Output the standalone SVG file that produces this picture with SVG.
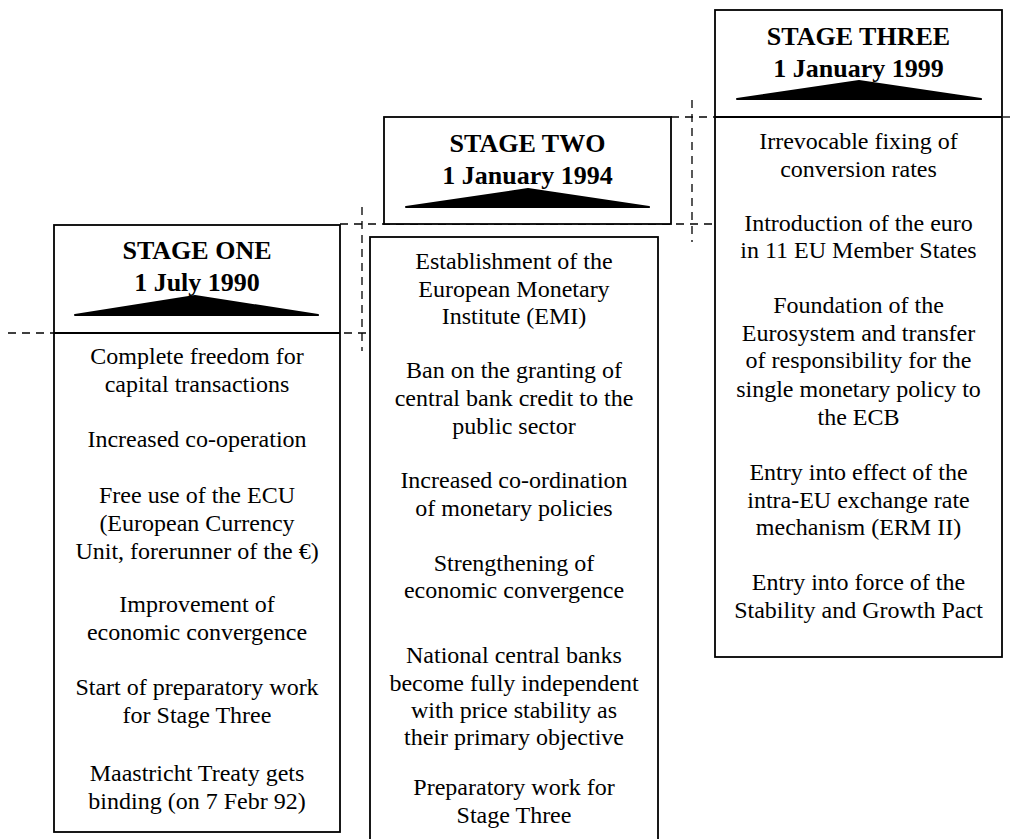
<svg xmlns="http://www.w3.org/2000/svg" width="1010" height="839" viewBox="0 0 1010 839">
<style>
.box{fill:#fff;stroke:#000;stroke-width:1.8}
.div{stroke:#000;stroke-width:1.8;fill:none}
.tri{fill:#000;stroke:#000;stroke-width:2;stroke-linejoin:round}
.dash{stroke:#000;stroke-width:1.3;stroke-dasharray:8 6;fill:none}
.h{font-family:"Liberation Serif","Times New Roman",serif;font-weight:bold;font-size:26px;text-anchor:middle;fill:#000}
.b{font-family:"Liberation Serif","Times New Roman",serif;font-size:24px;text-anchor:middle;fill:#000}
</style>
<rect width="1010" height="839" fill="#fff"/>
<g id="connectors">
<line class="dash" x1="8" y1="333" x2="380" y2="333"/>
<line class="dash" x1="340" y1="224" x2="715" y2="224"/>
<line class="dash" x1="671" y1="117" x2="715" y2="117"/>
<line class="dash" x1="1003" y1="117" x2="1010" y2="117"/>
<line class="dash" x1="362" y1="207" x2="362" y2="351"/>
<line class="dash" x1="692" y1="100" x2="692" y2="242"/>
</g>
<g id="stage-one">
<rect class="box" x="54" y="225" width="286" height="607"/>
<line class="div" x1="54" y1="333" x2="340" y2="333"/>
<text class="h" x="197" y="259">STAGE ONE</text>
<text class="h" x="197" y="291">1 July 1990</text>
<polygon class="tri" points="75,315 195,296 318,315"/>
<text class="b" x="197" y="364">Complete freedom for</text>
<text class="b" x="197" y="392">capital transactions</text>
<text class="b" x="197" y="447">Increased co-operation</text>
<text class="b" x="197" y="503">Free use of the ECU</text>
<text class="b" x="197" y="531">(European Currency</text>
<text class="b" x="197" y="559">Unit, forerunner of the €)</text>
<text class="b" x="197" y="612">Improvement of</text>
<text class="b" x="197" y="640">economic convergence</text>
<text class="b" x="197" y="695">Start of preparatory work</text>
<text class="b" x="197" y="723">for Stage Three</text>
<text class="b" x="197" y="781">Maastricht Treaty gets</text>
<text class="b" x="197" y="809">binding (on 7 Febr 92)</text>
</g>
<g id="stage-two">
<rect class="box" x="384" y="117" width="287" height="107"/>
<text class="h" x="527.5" y="152">STAGE TWO</text>
<text class="h" x="527.5" y="184">1 January 1994</text>
<polygon class="tri" points="406,207 528,189 649,207"/>
<rect class="box" x="370" y="237" width="288" height="615"/>
<text class="b" x="514" y="269">Establishment of the</text>
<text class="b" x="514" y="297">European Monetary</text>
<text class="b" x="514" y="324">Institute (EMI)</text>
<text class="b" x="514" y="378">Ban on the granting of</text>
<text class="b" x="514" y="406">central bank credit to the</text>
<text class="b" x="514" y="434">public sector</text>
<text class="b" x="514" y="488">Increased co-ordination</text>
<text class="b" x="514" y="516">of monetary policies</text>
<text class="b" x="514" y="571">Strengthening of</text>
<text class="b" x="514" y="598">economic convergence</text>
<text class="b" x="514" y="663">National central banks</text>
<text class="b" x="514" y="691">become fully independent</text>
<text class="b" x="514" y="718">with price stability as</text>
<text class="b" x="514" y="745">their primary objective</text>
<text class="b" x="514" y="795">Preparatory work for</text>
<text class="b" x="514" y="823">Stage Three</text>
</g>
<g id="stage-three">
<rect class="box" x="715" y="10" width="287" height="647"/>
<line class="div" x1="715" y1="117" x2="1002" y2="117"/>
<text class="h" x="858.5" y="45">STAGE THREE</text>
<text class="h" x="858.5" y="77">1 January 1999</text>
<polygon class="tri" points="737,99 859,81 981,99"/>
<text class="b" x="858.5" y="149">Irrevocable fixing of</text>
<text class="b" x="858.5" y="177">conversion rates</text>
<text class="b" x="858.5" y="231">Introduction of the euro</text>
<text class="b" x="858.5" y="258">in 11 EU Member States</text>
<text class="b" x="858.5" y="313">Foundation of the</text>
<text class="b" x="858.5" y="341">Eurosystem and transfer</text>
<text class="b" x="858.5" y="368">of responsibility for the</text>
<text class="b" x="858.5" y="397">single monetary policy to</text>
<text class="b" x="858.5" y="425">the ECB</text>
<text class="b" x="858.5" y="480">Entry into effect of the</text>
<text class="b" x="858.5" y="508">intra-EU exchange rate</text>
<text class="b" x="858.5" y="535">mechanism (ERM II)</text>
<text class="b" x="858.5" y="590">Entry into force of the</text>
<text class="b" x="858.5" y="618">Stability and Growth Pact</text>
</g>
</svg>
